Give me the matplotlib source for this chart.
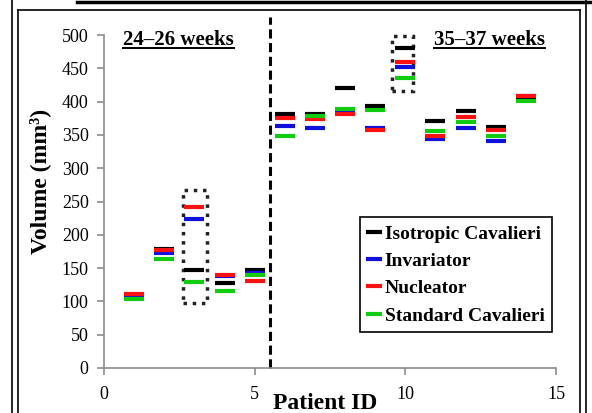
import numpy as np
import matplotlib
matplotlib.use("Agg")
import matplotlib.pyplot as plt
from matplotlib.lines import Line2D
from matplotlib.patches import Rectangle

plt.rcParams['font.family'] = ['Liberation Serif', 'DejaVu Serif']

# volumes (mm^3) per patient
patients = np.arange(1, 15)
isotropic = [110, 178, 147, 128, 147, 381, 382, 421, 394, 480, 371, 386, 362, 406]
invariator = [108, 173, 224, 138, 143, 364, 360, 386, 360, 452, 344, 361, 341, 408]
nucleator = [111, 177, 241, 140, 131, 375, 374, 381, 357, 460, 348, 377, 357, 409]
standard = [104, 163, 129, 116, 139, 348, 378, 389, 387, 435, 356, 370, 349, 401]

series = [('Isotropic Cavalieri', isotropic, 'black'),
          ('Invariator', invariator, '#1010dd'),
          ('Nucleator', nucleator, '#ff1010'),
          ('Standard Cavalieri', standard, '#10cc10')]

fig = plt.figure(figsize=(5.92, 4.13), dpi=100)
ax = fig.add_axes([104/592, 45/413, 452/592, 333/413])

for name, vals, col in series:
    ax.plot(patients, vals, linestyle='none', marker='_', markersize=14,
            markeredgewidth=3, color=col)

# dotted boxes around outlying patients
ax.add_patch(Rectangle((2.61, 97), 0.8, 171, fill=False, edgecolor='#222222',
                       linestyle=':', linewidth=2.5))
ax.add_patch(Rectangle((9.55, 416), 0.7, 82, fill=False, edgecolor='#222222',
                       linestyle=':', linewidth=2.5, clip_on=False))

# separator between age groups
ax.axvline(5.5, ymin=0, ymax=1.054, color='black', linestyle=(0, (3, 1.5)),
           linewidth=2.2, clip_on=False)

ax.set_xlim(0, 15)
ax.set_ylim(0, 500)
ax.set_xticks([0, 5, 10, 15])
ax.set_yticks(np.arange(0, 501, 50))
for s in ['top', 'right']:
    ax.spines[s].set_visible(False)
for s in ['left', 'bottom']:
    ax.spines[s].set_color('#8c8c8c')
    ax.spines[s].set_linewidth(1.2)
ax.tick_params(axis='both', colors='#8c8c8c', labelcolor='black', length=5,
               width=1.2, labelsize=13)
ax.tick_params(axis='y', pad=6)
ax.tick_params(axis='x', pad=8)

ax.set_xlabel('Patient ID', fontsize=17, fontweight='bold', labelpad=-12)
ax.xaxis.set_label_coords(0.49, -0.075)
ax.set_ylabel('Volume (mm³)', fontsize=17, fontweight='bold')
ax.yaxis.set_label_coords(-0.117, 0.56)

t1 = ax.text(2.46, 485, '24–26 weeks', fontsize=15, fontweight='bold',
             ha='center', va='baseline')
t2 = ax.text(12.8, 485, '35–37 weeks', fontsize=15, fontweight='bold',
             ha='center', va='baseline')

handles = [Line2D([], [], color=c, linewidth=3) for _, _, c in series]
leg = ax.legend(handles, [n for n, _, _ in series], loc='upper left',
                bbox_to_anchor=(0.566, 0.453), borderaxespad=0,
                prop={'weight': 'bold', 'size': 14}, handlelength=0.62,
                handletextpad=0.25, labelspacing=0.5, borderpad=0.4,
                fancybox=False, framealpha=1, edgecolor='black')
leg.get_frame().set_linewidth(1.2)

# frame lines around the picture
W, H = 592, 413
def fline(x0, y0, x1, y1, lw):
    fig.add_artist(Line2D([x0/W, x1/W], [1 - y0/H, 1 - y1/H], color='black',
                          linewidth=lw, transform=fig.transFigure))
fline(77, 1.5, 592, 1.5, 2.5)
fline(12, 0, 12, H, 1.2)
fline(586, 0, 586, H, 1.2)
fline(18, 10, 580, 10, 1.2)
fline(18, 10, 18, H, 1.2)
fline(580, 10, 580, H, 1.2)

# underline the group titles
fig.canvas.draw()
r = fig.canvas.get_renderer()
for t in (t1, t2):
    bb = t.get_window_extent(r)
    yb = ax.transData.transform((0, 485))[1] - 3
    fig.add_artist(Line2D([bb.x0/W, bb.x1/W], [yb/H, yb/H], color='black',
                          linewidth=1.4, transform=fig.transFigure))

fig.savefig('out.png', dpi=100)
